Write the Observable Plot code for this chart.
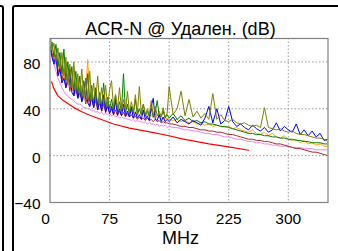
<!DOCTYPE html>
<html>
<head>
<meta charset="utf-8">
<script src="https://cdn.jsdelivr.net/npm/d3@7"></script>
<script src="https://cdn.jsdelivr.net/npm/@observablehq/plot@0.6"></script>
<style>
  html, body { margin: 0; padding: 0; background: #fff; }
  #wrap { position: relative; width: 338px; height: 251px; overflow: hidden; background: #fff; }
  #wrap svg { position: absolute; left: 0; top: 0; }
  .panel { position: absolute; border: 2px solid #000; border-radius: 3px; box-sizing: border-box; }
</style>
</head>
<body>
<div id="wrap">
  <div class="panel" style="left:-400px; top:5px; width:404px; height:300px;"></div>
  <div class="panel" style="left:12px; top:5px; width:400px; height:300px;"></div>
</div>
<script>
const title = "ACR-N @ Удален. (dB)";
const xLabel = "MHz";
const xTicks = [0, 75, 150, 225, 300];
const yTicks = [-40, 0, 40, 80];
const gridYTicks = [0, 40, 80];

const freqs = [1,2.5,5,7.5,10,12.5,15,17.5,20,22.5,25,27.5,30,32.5,35,37.5,40,42.5,45,47.5,50,52.5,55,57.5,60,62.5,65,67.5,70,72.5,75,77.5,80,82.5,85,87.5,90,92.5,95,97.5,100,102.5,105,107.5,110,112.5,115,117.5,120,122.5,125,127.5,130,132.5,135,137.5,140,142.5,145,147.5,150,
  155,160,165,170,175,180,185,190,195,200,205,210,215,220,225,230,235,240,245,250,255,260,265,270,275,280,285,290,295,300,305,310,315,320,325,330,335,340,345,350];

const olive  = [100,90,96,80,92,74,88,68,84,62,78,58,80,55,70,52,74,50,66,48,72,47,62,45,68,44,58,43,60,42,56,64,41,52,40,58,39,48,38,55,37,46,37,52,36,59,36,44,35,40,35,47,34,42,34,38,33,41,33,36,59,
  35,40,55,34,48,33,38,32,36,31,53,31,35,30,29,31,28,27,28,26,25,26,24,41,24,23,22,23,21,20,21,19,18,18,17,16,15,15,14,12];
const green  = [92,97,84,95,76,88,70,91,64,80,60,76,55,72,52,68,50,64,48,70,46,60,44,58,43,54,42,62,41,50,40,48,39,52,38,46,38,70,37,44,36,42,36,48,35,40,35,44,34,38,34,40,33,37,47,34,33,38,32,35,32,
  36,31,34,30,32,29,30,28,29,27,27,26,25,25,24,23,22,21,20,19,19,18,18,17,17,16,16,15,15,14,14,13,13,12,12,11,11,11,10,10];
const blue   = [90,84,78,86,68,74,62,66,58,64,74,54,51,60,49,56,46,52,66,45,42,50,41,54,39,47,38,52,37,44,36,42,35,48,35,40,34,44,34,38,33,41,32,37,32,35,31,39,31,34,30,42,49,31,30,35,29,33,29,31,29,
  33,28,31,29,27,30,28,26,32,42,28,40,27,30,42,29,25,27,24,22,26,23,21,24,20,22,28,21,25,22,20,27,18,22,17,21,16,19,13,14];
const orange = [95,92,86,78,82,70,76,64,80,60,70,56,74,53,64,50,60,48,56,82,45,54,43,52,42,48,41,50,40,46,39,44,38,45,37,42,37,40,36,43,35,39,35,38,34,40,34,37,33,36,33,35,32,36,32,34,31,33,31,32,31,
  30,31,29,30,28,29,27,28,26,27,25,26,25,24,25,23,24,22,21,20,22,19,18,20,17,19,16,15,17,14,13,14,11,13,10,11,9,10,8,8];
const brown  = [92,88,80,84,70,78,64,74,58,68,55,64,51,60,49,58,46,55,44,52,42,50,41,48,39,46,38,44,37,42,36,40,35,39,34,38,34,37,33,36,33,35,32,34,31,33,31,32,30,32,30,31,29,31,29,30,28,29,28,28,27,
  27,26,25,25,24,24,23,22,22,21,21,20,20,19,18,18,17,16,15,14,14,13,13,12,12,11,10,10,9,8,7,6,6,5,4,3,3,2,1,0];
const violet = [90,85,78,72,66,62,58,55,52,51,49,48,47,45,44,44,43,41,41,40,40,38,39,37,38,36,37,35,36,35,36,34,35,33,34,32,33,32,32,31,31,30,31,29,30,29,29,28,29,27,28,27,27,26,27,25,26,25,26,24,25,
  24,24,23,22,22,21,21,20,19,19,18,18,17,16,16,15,14,14,13,12,12,11,11,10,10,9,9,8,8,8,7,7,7,6,6,6,5,5,5,5];

const limitFreqs = [2, 2.5, 5, 7.5, 10, 15, 20, 30, 40, 50, 62, 80, 100, 127, 150, 165, 200, 225, 250];
const limitVals  = [63, 62, 57, 54, 51, 48, 45.5, 41, 37.5, 34.5, 31.5, 27, 23.5, 20, 17, 14.5, 10, 7.5, 4.6];

const seriesNames  = ["violet", "brown", "orange", "green", "blue", "olive"];
const seriesVals   = [violet, brown, orange, green, blue, olive];
const seriesColors = ["#da70d6", "#8b4513", "#ffa500", "#2e8b57", "#0000ff", "#808000"];

const rows = [];
seriesNames.forEach((name, i) => {
  freqs.forEach((f, j) => rows.push({s: name, f, v: seriesVals[i][j]}));
});
const limitRows = limitFreqs.map((f, j) => ({f, v: limitVals[j]}));

const chart = Plot.plot({
  width: 338,
  height: 251,
  marginLeft: 49.5,
  marginRight: 10.5,
  marginTop: 38,
  marginBottom: 49,
  style: { fontFamily: "'Liberation Sans', Arial, sans-serif", fontSize: "15.5px", background: "transparent", overflow: "visible", color: "#000" },
  x: { domain: [0, 350] },
  y: { domain: [-40, 100] },
  color: { domain: seriesNames, range: seriesColors },
  marks: [
    Plot.gridX(xTicks.slice(1), { stroke: "#999", strokeOpacity: 1, strokeDasharray: "1.5,2" }),
    Plot.gridY(gridYTicks, { stroke: "#999", strokeOpacity: 1, strokeDasharray: "1.5,2" }),
    Plot.line(limitRows, { x: "f", y: "v", stroke: "#ff0000", strokeWidth: 1.2, clip: true }),
    Plot.line(rows, { x: "f", y: "v", z: "s", stroke: "s", strokeWidth: 1, clip: true }),
    Plot.frame({ stroke: "#808080", strokeWidth: 1.2 }),
    Plot.axisY(yTicks, { tickSize: 0, tickPadding: 9.5, dy: 2, fontSize: 15.5, label: null }),
    Plot.axisX(xTicks.slice(1), { tickSize: 0, tickPadding: 10, fontSize: 15.5, label: null }),
    Plot.axisX([xTicks[0]], { tickSize: 0, tickPadding: 10, dx: -4.5, fontSize: 15.5, label: null }),
    Plot.text([xLabel], { frameAnchor: "bottom", dy: 41, dx: -8.5, fontSize: 18, fill: "#000" }),
    Plot.text([title], { frameAnchor: "top", dy: -16, dx: -8.5, fontSize: 18, fill: "#000" })
  ]
});
document.getElementById("wrap").appendChild(chart);
</script>
</body>
</html>
